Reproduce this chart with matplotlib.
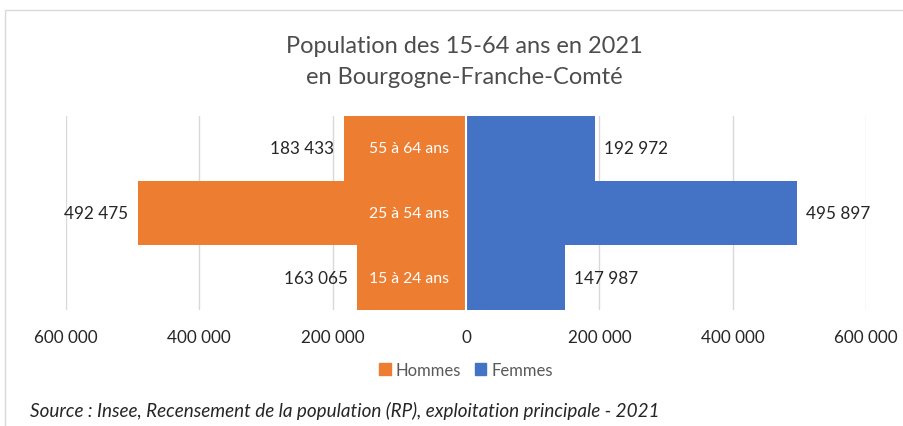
import numpy as np
import matplotlib.pyplot as plt
from matplotlib.patches import Rectangle, Patch

plt.rcParams['font.family'] = ['Lato', 'DejaVu Sans']

groups = ['15 à 24 ans', '25 à 54 ans', '55 à 64 ans']
hommes = [163065, 492475, 183433]
femmes = [147987, 495897, 192972]
ticks = [-600000, -400000, -200000, 0, 200000, 400000, 600000]

orange = '#ED7D31'
blue = '#4472C4'
grey = '#595959'

def fmt(v):
    return f'{abs(v):,}'.replace(',', ' ')

fig = plt.figure(figsize=(9.04, 4.27), dpi=100)
ax = fig.add_axes([66 / 904, 1 - 311 / 427, 800 / 904, 194 / 427])

y = np.arange(len(groups))
ax.barh(y, [-h for h in hommes], height=1.0, color=orange)
ax.barh(y, femmes, height=1.0, color=blue)
ax.axvline(0, color='white', lw=1.5)

for i in range(len(groups)):
    ax.annotate(fmt(hommes[i]), (-hommes[i], y[i]), xytext=(-7, 0), textcoords='offset points',
                ha='right', va='center', fontsize=12.3, color='#262626')
    ax.annotate(fmt(femmes[i]), (femmes[i], y[i]), xytext=(7, 0), textcoords='offset points',
                ha='left', va='center', fontsize=12.3, color='#262626')
    ax.annotate(groups[i], (0, y[i]), xytext=(-12, 0), textcoords='offset points',
                ha='right', va='center', fontsize=11.3, color='white')

ax.set_xlim(-600000, 600000)
ax.set_ylim(-0.5, 2.5)
ax.set_xticks(ticks)
ax.set_xticklabels([fmt(t) for t in ticks], fontsize=12.3, color='#262626')
ax.tick_params(axis='x', length=0, pad=14)
ax.set_yticks([])
ax.grid(axis='x', color='#D9D9D9', lw=1)
ax.set_axisbelow(True)
for s in ax.spines.values():
    s.set_visible(False)

fig.text(464 / 904, 1 - 62 / 427, 'Population des 15-64 ans en 2021\nen Bourgogne-Franche-Comté',
         ha='center', va='center', fontsize=17, color='#4d4d4d', linespacing=1.55)

handles = [Patch(color=orange), Patch(color=blue)]
fig.legend(handles, ['Hommes', 'Femmes'], loc='center', bbox_to_anchor=(466 / 904, 1 - 371 / 427),
           ncol=2, frameon=False, fontsize=12, labelcolor=grey, handlelength=0.7, handleheight=0.7,
           handletextpad=0.3, columnspacing=0.8)

fig.text(30 / 904, 1 - 411 / 427,
         'Source : Insee, Recensement de la population (RP), exploitation principale - 2021',
         ha='left', va='center', fontsize=13.6, style='italic', color='#262626')

fig.patches.append(Rectangle((5 / 904, -0.1), 1.2, 1 - 11 / 427 + 0.1, transform=fig.transFigure,
                             fill=False, edgecolor='#D9D9D9', lw=1))

fig.savefig('out.png', dpi=100)
